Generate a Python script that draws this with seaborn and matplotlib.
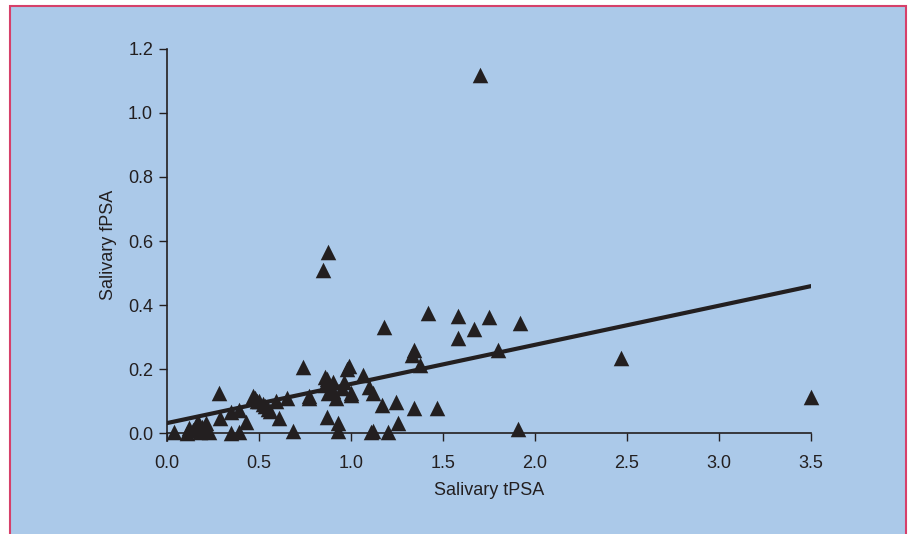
import matplotlib
matplotlib.use("Agg")
import matplotlib.pyplot as plt
from matplotlib.patches import Rectangle
import numpy as np
import pandas as pd
import seaborn as sns

# salivary total PSA (x) and free PSA (y)
tpsa = [0.04, 0.11, 0.14, 0.16, 0.17, 0.18, 0.21, 0.23, 0.12, 0.19,
        0.28, 0.29, 0.35, 0.35, 0.39, 0.39, 0.43, 0.47, 0.49, 0.50,
        0.53, 0.55, 0.56, 0.59, 0.61, 0.65, 0.685, 0.74, 0.77, 0.77,
        0.85, 0.86, 0.86, 0.87, 0.87, 0.875, 0.875, 0.92, 0.93, 0.93,
        0.95, 0.98, 0.99, 1.00, 1.00, 1.065, 1.10, 1.12, 1.12, 1.11,
        1.17, 1.18, 1.20, 1.245, 1.255, 1.33, 1.34, 1.34, 1.375, 1.42,
        1.47, 1.58, 1.58, 1.67, 1.70, 1.75, 1.80, 1.91, 1.92, 2.47,
        3.50, 0.48, 0.52, 0.90, 0.96, 0.90]
fpsa = [0.003, 0.0, 0.01, 0.025, 0.034, 0.003, 0.031, 0.003, 0.015, 0.02,
        0.125, 0.047, 0.066, 0.0, 0.072, 0.003, 0.034, 0.115, 0.10, 0.10,
        0.085, 0.075, 0.07, 0.10, 0.047, 0.11, 0.006, 0.205, 0.11, 0.115,
        0.51, 0.175, 0.15, 0.05, 0.17, 0.565, 0.125, 0.11, 0.031, 0.006,
        0.14, 0.20, 0.21, 0.125, 0.12, 0.18, 0.144, 0.125, 0.006, 0.003,
        0.088, 0.33, 0.003, 0.097, 0.031, 0.244, 0.26, 0.078, 0.212, 0.375,
        0.078, 0.366, 0.297, 0.325, 1.12, 0.362, 0.26, 0.012, 0.344, 0.234,
        0.113, 0.11, 0.09, 0.16, 0.16, 0.13]

# regression line end points
line_x = [0.0, 3.5]
line_y = [0.031, 0.459]

xticks = [0.0, 0.5, 1.0, 1.5, 2.0, 2.5, 3.0, 3.5]
yticks = [0.0, 0.2, 0.4, 0.6, 0.8, 1.0, 1.2]

bg = "#abc9e9"
ink = "#231f20"

sns.set_style("ticks")
plt.rcParams["font.family"] = ["Liberation Sans", "DejaVu Sans"]

fig = plt.figure(figsize=(9.09, 5.34), dpi=100)
fig.patch.set_facecolor("white")
# blue panel with red frame, kept behind the axes
fig.patches.append(Rectangle((10 / 909, -0.02), 896 / 909, 1.02 - 6 / 534,
                             transform=fig.transFigure, facecolor=bg,
                             edgecolor="#d6406a", linewidth=1.5, zorder=-10))

ax = fig.add_axes([167 / 909, 93 / 534, 644 / 909, 392 / 534])
ax.set_facecolor("none")

df = pd.DataFrame({"tPSA": tpsa, "fPSA": fpsa})
sns.scatterplot(data=df, x="tPSA", y="fPSA", marker="^", s=125, color=ink,
                linewidth=0, ax=ax, clip_on=False, zorder=3)
sns.lineplot(x=line_x, y=line_y, color=ink, linewidth=3, ax=ax, zorder=2)

ax.set_xlim(0, 3.5)
ax.set_ylim(-0.025, 1.2)
ax.spines["bottom"].set_position(("data", 0))
ax.spines["bottom"].set_bounds(0, 3.5)
for s in ["top", "right"]:
    ax.spines[s].set_visible(False)
for s in ["left", "bottom"]:
    ax.spines[s].set_color(ink)
    ax.spines[s].set_linewidth(1.2)

ax.set_xticks(xticks)
ax.set_xticklabels([f"{v:.1f}" for v in xticks])
ax.set_yticks(yticks)
ax.set_yticklabels([f"{v:.1f}" for v in yticks])
ax.tick_params(axis="x", length=6, width=1, color=ink, labelcolor=ink,
               labelsize=13, pad=10)
ax.tick_params(axis="y", length=6, width=1, color=ink, labelcolor=ink,
               labelsize=13, pad=4)
ax.set_xlabel("Salivary tPSA", fontsize=13, color=ink, labelpad=7)
ax.set_ylabel("Salivary fPSA", fontsize=13, color=ink, labelpad=8)

fig.savefig("out.png", dpi=100)
